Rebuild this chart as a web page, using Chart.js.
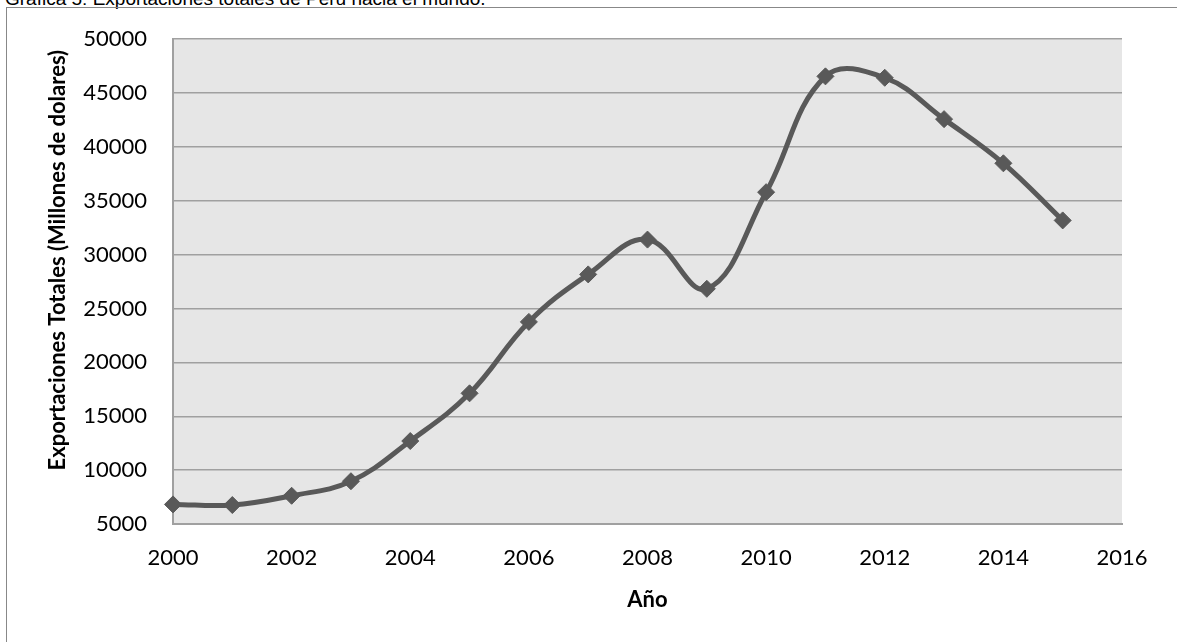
<!DOCTYPE html>
<html>
<head>
<meta charset="utf-8">
<script src="https://cdn.jsdelivr.net/npm/chart.js@4"></script>
<style>
  html, body { margin: 0; padding: 0; background: #fff; overflow: hidden; }
  #frame { position: absolute; left: 6px; top: 7px; width: 1300px; height: 800px;
           border-left: 1px solid #888; border-top: 1px solid #888; }
  #caption { position: absolute; left: 5px; top: -11px; font: 19px "Liberation Sans", Arial, sans-serif;
             line-height: 19px; color: #000; white-space: nowrap; }
  #wrap { position: absolute; left: 0; top: 0; width: 1177px; height: 642px; }
</style>
</head>
<body>
<div id="caption">Gráfica 5: Exportaciones totales de Perú hacia el mundo.</div>
<div id="frame"></div>
<div id="wrap"><canvas id="lineChart"></canvas></div>
<script>
// data (millones de dolares)
const years = [2000, 2001, 2002, 2003, 2004, 2005, 2006, 2007,
               2008, 2009, 2010, 2011, 2012, 2013, 2014, 2015];
const exportsTotal = [6820, 6760, 7620, 8970, 12700, 17130, 23760, 28170,
                      31400, 26830, 35800, 46550, 46420, 42580, 38480, 33180];
const xTicks = [2000, 2016, 2];          // min, max, step
const yTicks = [5000, 50000, 5000];      // min, max, step

const plotBg = {
  id: 'plotBg',
  beforeDraw(chart) {
    const { ctx, chartArea: a } = chart;
    ctx.save();
    ctx.fillStyle = '#e6e6e6';
    ctx.fillRect(a.left, a.top, a.right - a.left, a.bottom - a.top);
    ctx.restore();
  }
};

const tickFont = { family: 'Lato', size: 22 };
const ctx = document.getElementById('lineChart').getContext('2d');
new Chart(ctx, {
  type: 'line',
  data: {
    datasets: [{
      label: 'Exportaciones',
      data: years.map((y, i) => ({ x: y, y: exportsTotal[i] })),
      borderColor: '#595959',
      backgroundColor: '#595959',
      borderWidth: 5,
      tension: 0.4,
      fill: false,
      clip: false,
      pointStyle: 'rectRot',
      pointRadius: 8.5,
      pointBorderWidth: 1,
      pointBackgroundColor: '#595959',
      pointBorderColor: '#595959'
    }]
  },
  options: {
    responsive: true,
    maintainAspectRatio: false,
    animation: false,
    layout: { padding: { top: 37, right: 55, bottom: 0, left: 0 } },
    plugins: {
      legend: { display: false },
      tooltip: { enabled: false }
    },
    scales: {
      x: {
        type: 'linear',
        min: xTicks[0],
        max: xTicks[1],
        afterFit(s) { s.height = 118; },
        ticks: { stepSize: xTicks[2], color: '#000', font: tickFont, padding: 21,
                 maxRotation: 0, callback: v => String(v) },
        grid: { display: false, drawTicks: false },
        border: { display: true, color: '#a0a0a0', width: 2 },
        title: { display: true, text: 'Año', color: '#000',
                 font: { family: 'Lato', size: 22, weight: 'bold' },
                 padding: { top: 0, bottom: 29 } }
      },
      y: {
        min: yTicks[0],
        max: yTicks[1],
        afterFit(s) { s.width = 173; },
        ticks: { stepSize: yTicks[2], color: '#000', font: tickFont, padding: 26,
                 callback: v => String(v) },
        grid: { color: '#a0a0a0', lineWidth: 1.5, drawTicks: false },
        border: { display: true, color: '#a0a0a0', width: 2 },
        title: { display: true, text: 'Exportaciones Totales (Millones de dolares)  ', color: '#000',
                 align: 'end',
                 font: { family: 'Lato', size: 22, weight: 'bold' },
                 padding: { top: 45, bottom: 0 } }
      }
    }
  },
  plugins: [plotBg]
});
</script>
</body>
</html>
